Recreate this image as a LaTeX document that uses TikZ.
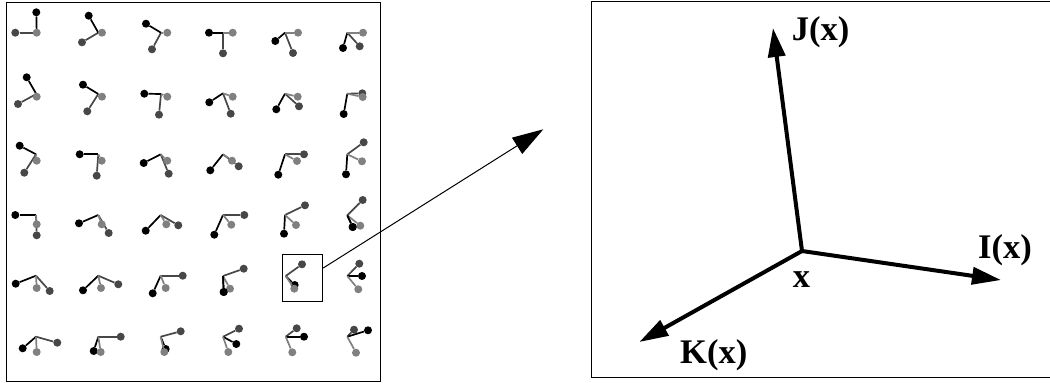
\documentclass[tikz,border=0pt]{standalone}
\usepackage{fontspec}
\setmainfont{Liberation Serif}
\usetikzlibrary{arrows.meta}
\tikzset{
  idot/.style={circle,fill=black!50,minimum size=8pt,inner sep=0pt},
  jdot/.style={circle,fill=black,minimum size=8pt,inner sep=0pt},
  kdot/.style={circle,fill=black!72,minimum size=8pt,inner sep=0pt},
  iline/.style={line width=1.7pt,black!50},
  jline/.style={line width=1.7pt,black},
  kline/.style={line width=1.7pt,black!72},
  axis/.style={line width=4pt,-{Triangle[length=29pt,width=17pt]}},
  axislabel/.style={anchor=base west,inner sep=0pt,font=\fontsize{34.5}{40}\selectfont\bfseries}
}

\begin{document}
\begin{tikzpicture}[x=1pt,y=-1pt]
  \useasboundingbox (0,0) rectangle (1050,383);
  \draw[line width=1pt] (6,2.2) rectangle (380,381);
  \draw[line width=1pt] (1052,1.8) -| (591.7,377.7) -- (1052,377.7);
  % glyph: row col / origin / I / J / K
  \foreach \n/\ox/\oy/\ix/\iy/\jx/\jy/\kx/\ky in {
    11/36.7/32.7/36.7/32.7/36.3/12.3/15.3/32.7,
    12/98.3/32.7/102/32.7/88.7/15.7/82/42.3,
    13/161/32.7/167.3/32.7/146/23.7/152/49.3,
    14/223/32.7/232.7/32.7/209/32.7/223/53.3,
    15/285/32.7/298/32.7/275.3/41/293/53,
    16/347.3/32.7/363/32.7/343/48/359.7/46.3,
    21/36.3/94/36.7/96.7/26.7/77.3/18/104,
    22/98.3/94/102/96.7/83/84.7/87.3/111.3,
    23/161/94/167.3/96.7/144.3/93.7/159/114.7,
    24/223/93.3/232.7/96.7/209.3/102.3/230.7/113.7,
    25/285/93.7/297.7/96.7/276.3/109.3/299/106.3,
    26/347.3/93.7/362.7/97/343.7/114/362.3/93.3,
    31/36/154.3/36.7/160.7/19.7/145.7/24.3/172.7,
    32/98.3/154.3/101.7/160.7/79.7/154.3/96.7/175.7,
    33/160.7/154.3/167.3/160.7/143.7/163/168.7/173.7,
    34/223/154.3/232/160.7/210.3/170.3/238.7/166.3,
    35/285/154.3/297/161/278.3/174.7/304/154.3,
    36/347.3/154.3/362/161.3/346/174.3/363.7/142.3,
    41/36/215/36.7/224.3/15.3/215/36.7/235.3,
    42/98.3/215/101.7/224.3/79/223.3/108.7/233,
    43/160.7/215/166.3/224.3/145.7/230.7/178.3/225.3,
    44/223/215/231.3/224.7/214.3/234.7/244.3/215,
    45/285/215/296/225/284/233.7/305/205.3,
    46/347.3/215.3/360.3/225.7/352.7/227/362.7/200,
    51/36/275.7/36.7/288/15.7/283.7/49.7/291,
    52/98.3/275.7/101/288/83/290.3/118.3/284.3,
    53/160.7/275.7/165.7/288/152.7/293.3/182.7/275.7,
    54/223/276/230/288.7/223.7/292/243.7/268.7,
    55/285.7/276/294.3/288.7/294.7/285/302/264.3,
    56/347.3/276/358.3/289.3/362/276/359.3/263.7,
    61/36/336.7/36.7/352/22.7/348.3/57.3/342.7,
    62/98.3/336.7/100.7/352/93.7/351/120.7/336.7,
    63/160.7/336.7/164.3/352/165.7/349/180.7/331.3,
    64/223/336.7/228.3/352/236.3/344/239/328.7,
    65/285.7/336.7/292.3/352.3/304/336.7/296.7/328.3,
    66/347.3/336.7/356/352.7/368/330.3/354/329.7}{
    \coordinate (o\n) at (\ox,\oy);
    \node[kdot] (k\n) at (\kx,\ky) {};
    \draw[kline] (o\n) -- (k\n);
    \node[jdot] (j\n) at (\jx,\jy) {};
    \draw[jline] (o\n) -- (j\n);
    \node[idot] (i\n) at (\ix,\iy) {};
    \draw[iline] (o\n) -- (i\n);}
  % these two have the black end in front
  \foreach \n in {46,54}{
    \node[jdot] (jtop\n) at (j\n) {};
    \draw[jline] (o\n) -- (jtop\n);}
  % zoom box and long arrow
  \node[draw,line width=1pt,minimum width=40.4pt,minimum height=46.7pt,inner sep=0pt]
    (zoombox) at (302.5,278.3) {};
  \coordinate (zoomstart) at (zoombox.east |- 0,268);
  \coordinate (zoomtip) at (543.3,129.3);
  \draw[line width=1pt,-{Triangle[length=31pt,width=19pt]}] (zoomstart) -- (zoomtip);
  % frame at x
  \coordinate (x0) at (802,251);
  \coordinate (itip) at (1001,280);
  \coordinate (jtip) at (773,28);
  \coordinate (ktip) at (639.3,342);
  \draw[axis] (x0) -- (itip);
  \draw[axis] (x0) -- (jtip);
  \draw[axis] (x0) -- (ktip);
  \node[axislabel] (xlabel) at (792.7,287) {x};
  \node[axislabel] (ilabel) at (978,258) {I(x)};
  \node[axislabel] (jlabel) at (791.7,40) {J(x)};
  \node[axislabel] (klabel) at (680,363) {K(x)};
\end{tikzpicture}
\end{document}
